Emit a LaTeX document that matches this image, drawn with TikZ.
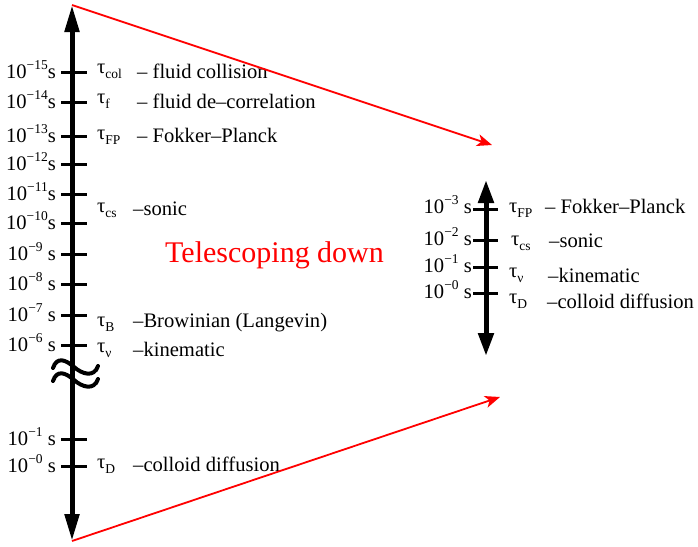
\documentclass[tikz,border=0pt]{standalone}
\usepackage{fontspec}
\setmainfont{Liberation Serif}
\usetikzlibrary{arrows.meta}
\newcommand\myexp[1]{\raisebox{8.5pt}{\fontsize{13.5}{13.5}\selectfont #1}}
\newcommand\mysub[1]{\raisebox{-5pt}{\fontsize{13.5}{13.5}\selectfont #1}}
\begin{document}
\begin{tikzpicture}[x=1pt,y=-1pt,
  lbl/.style={font=\fontsize{20.6}{20.6}\selectfont, inner sep=0pt},
  axis/.style={line width=5pt},
  tickline/.style={line width=3pt},
  wave/.style={line width=4pt, line cap=round},
  tele/.style={red, line width=1.8pt, -{Stealth[length=15pt,width=12pt,inset=4pt]}}]
\useasboundingbox (0,0) rectangle (698,546);
% left axis
\coordinate (LT) at (72,5);
\coordinate (LB) at (72,541);
\draw[axis, {Triangle[length=27pt,width=14pt]}-{Triangle[length=27pt,width=14pt]}] (LB) -- (LT);
\foreach \y in {72,102,136,164,194,223,254,284,315,345,439,466}
  \draw[tickline] (61,\y) -- (87,\y);
% break mark
\draw[wave] (53,368) .. controls (57,356) and (66,360) .. (74,367) .. controls (82,374) and (94,378) .. (98,366);
\draw[wave] (53,381) .. controls (57,369) and (66,373) .. (74,380) .. controls (82,387) and (94,391) .. (98,379);
% left exponent labels
\node[lbl, anchor=base east] (e15) at (56,78) {10\myexp{−15}s};
\node[lbl, anchor=base east] (e14) at (56,108) {10\myexp{−14}s};
\node[lbl, anchor=base east] (e13) at (56,142) {10\myexp{−13}s};
\node[lbl, anchor=base east] (e12) at (56,170) {10\myexp{−12}s};
\node[lbl, anchor=base east] (e11) at (56,200) {10\myexp{−11}s};
\node[lbl, anchor=base east] (e10) at (56,229) {10\myexp{−10}s};
\node[lbl, anchor=base east] (e9) at (56,260) {10\myexp{−9} s};
\node[lbl, anchor=base east] (e8) at (56,290) {10\myexp{−8} s};
\node[lbl, anchor=base east] (e7) at (56,321) {10\myexp{−7} s};
\node[lbl, anchor=base east] (e6) at (56,351) {10\myexp{−6} s};
\node[lbl, anchor=base east] (e1) at (56,445) {10\myexp{−1} s};
\node[lbl, anchor=base east] (e0) at (56,472) {10\myexp{−0} s};
% left tau labels
\node[lbl, anchor=base west] (tcol) at (97,73) {τ\mysub{col}};
\node[lbl, anchor=base west] (dcol) at (137,78) {– fluid collision};
\node[lbl, anchor=base west] (tf) at (97,103) {τ\mysub{f}};
\node[lbl, anchor=base west] (df) at (137,108) {– fluid de–correlation};
\node[lbl, anchor=base west] (tfp) at (97,139) {τ\mysub{FP}};
\node[lbl, anchor=base west] (dfp) at (137,142) {– Fokker–Planck};
\node[lbl, anchor=base west] (tcs) at (97,212) {τ\mysub{cs}};
\node[lbl, anchor=base west] (dcs) at (133,215) {–sonic};
\node[lbl, anchor=base west] (tb) at (97,326) {τ\mysub{B}};
\node[lbl, anchor=base west] (db) at (133,327) {–Browinian (Langevin)};
\node[lbl, anchor=base west] (tnu) at (97,352) {τ\mysub{ν}};
\node[lbl, anchor=base west] (dnu) at (133,356) {–kinematic};
\node[lbl, anchor=base west] (td) at (97,468) {τ\mysub{D}};
\node[lbl, anchor=base west] (dd) at (133,471) {–colloid diffusion};
% title
\node[red, font=\fontsize{30}{30}\selectfont, inner sep=0pt, anchor=base west] (title) at (165,262) {Telescoping down};
% right axis
\coordinate (RT) at (486,180);
\coordinate (RB) at (486,356);
\draw[axis, {Triangle[length=23pt,width=15pt]}-{Triangle[length=23pt,width=15pt]}] (RB) -- (RT);
\foreach \y in {209,240,267,293}
  \draw[tickline] (473,\y) -- (498,\y);
\node[lbl, anchor=base east] (r3) at (472,213) {10\myexp{−3} s};
\node[lbl, anchor=base east] (r2) at (472,245) {10\myexp{−2} s};
\node[lbl, anchor=base east] (r1) at (472,272) {10\myexp{−1} s};
\node[lbl, anchor=base east] (r0) at (472,298) {10\myexp{−0} s};
\node[lbl, anchor=base west] (rtfp) at (509,212) {τ\mysub{FP}};
\node[lbl, anchor=base west] (rdfp) at (545,213) {– Fokker–Planck};
\node[lbl, anchor=base west] (rtcs) at (511,245) {τ\mysub{cs}};
\node[lbl, anchor=base west] (rdcs) at (549,247) {–sonic};
\node[lbl, anchor=base west] (rtnu) at (509,277) {τ\mysub{ν}};
\node[lbl, anchor=base west] (rdnu) at (548,282) {–kinematic};
\node[lbl, anchor=base west] (rtd) at (509,303) {τ\mysub{D}};
\node[lbl, anchor=base west] (rdd) at (547,308) {–colloid diffusion};
% telescoping arrows
\coordinate (RU) at (492,145);
\coordinate (RD) at (500,397);
\draw[tele] (LT) -- (RU);
\draw[tele] (LB) -- (RD);
\end{tikzpicture}
\end{document}
